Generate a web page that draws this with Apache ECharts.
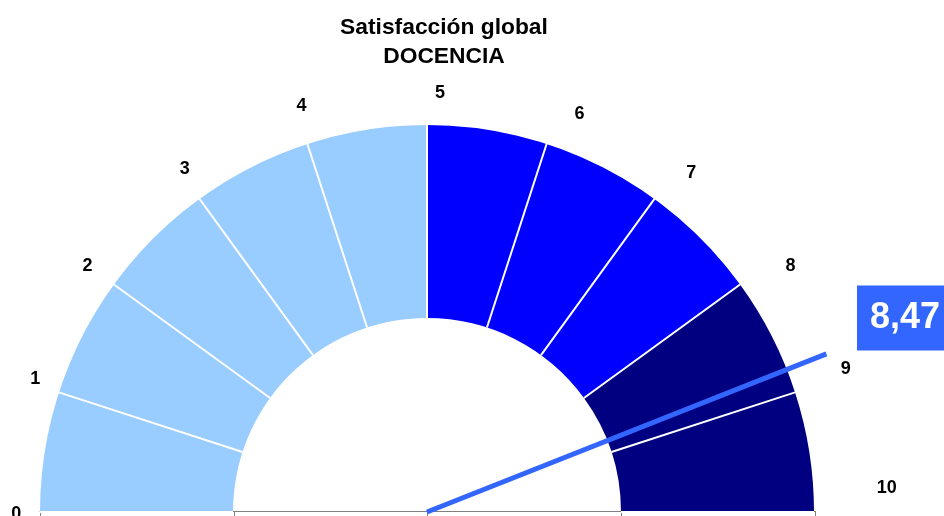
<!DOCTYPE html>
<html>
<head>
<meta charset="utf-8">
<script src="https://cdn.jsdelivr.net/npm/echarts@6/dist/echarts.min.js"></script>
<style>
  html, body { margin: 0; padding: 0; background: #fff; }
  #chart { width: 944px; height: 516px; }
</style>
</head>
<body>
<div id="chart"></div>
<script>
// scale of the dial
const scaleMin = 0;
const scaleMax = 10;
const dialLabels = [0, 1, 2, 3, 4, 5, 6, 7, 8, 9, 10];
// colour bands (upper limit of each band as fraction of the scale)
const bandLimits = [0.5, 0.8, 1];
const bandColors = ['#99CCFF', '#0000FF', '#000080'];
// score shown in the box and where the needle sits on the dial
const score = 8.47;
const needleAt = 8.8;
// bottom axis ticks
const baseTicks = [0, 1, 2, 3, 4];

// label ring (fraction of dial radius) and small per-label nudges in px
const labelRadius = 1.1;
const labelNudge = [
  [15, 2], [13, -1], [5, 4], [8, 1], [6, -1], [13, 7],
  [21, 7], [14, 5], [19, 4], [14, -11], [34, -24]
];

const center = [427, 512];
const dialR = 387;
const polarMax = 1.2;

const labelFont = {
  fontFamily: 'Liberation Sans, Arial, sans-serif',
  fontSize: 18,
  fontWeight: 'bold',
  color: '#000',
  opacity: 1
};

const chart = echarts.init(document.getElementById('chart'));

const option = {
  animation: false,
  title: {
    text: 'Satisfacción global\nDOCENCIA',
    left: 439,
    top: 8,
    textAlign: 'center',
    textStyle: {
      fontFamily: 'Liberation Sans, Arial, sans-serif',
      fontSize: 22.8,
      fontWeight: 'bold',
      color: '#000',
      lineHeight: 29
    }
  },
  grid: { left: 40, right: 129, top: 0, bottom: 5 },
  xAxis: {
    type: 'value',
    min: baseTicks[0],
    max: baseTicks[baseTicks.length - 1],
    interval: 1,
    axisLine: { show: true, lineStyle: { color: '#808080', width: 1 } },
    axisTick: { show: true, length: 5, lineStyle: { color: '#808080' } },
    axisLabel: { show: false },
    splitLine: { show: false }
  },
  yAxis: { type: 'value', show: false },
  polar: { center: center, radius: dialR * polarMax },
  angleAxis: {
    type: 'value',
    min: scaleMin,
    max: 2 * scaleMax,
    startAngle: 180,
    clockwise: true,
    show: false
  },
  radiusAxis: { type: 'value', min: 0, max: polarMax, show: false },
  series: [{
    type: 'gauge',
    center: center,
    radius: dialR,
    startAngle: 180,
    endAngle: 0,
    min: scaleMin,
    max: scaleMax,
    splitNumber: 10,
    axisLine: {
      lineStyle: {
        width: 193,
        color: bandLimits.map((l, i) => [l, bandColors[i]])
      }
    },
    splitLine: {
      distance: -193,
      length: 193,
      lineStyle: { color: '#fff', width: 2 }
    },
    axisTick: { show: false },
    axisLabel: { show: false },
    pointer: {
      icon: 'rect',
      length: '111%',
      width: 5,
      keepAspect: false,
      itemStyle: { color: '#3366FF' }
    },
    anchor: { show: false },
    progress: { show: false },
    title: { show: false },
    detail: {
      offsetCenter: [478, -194],
      formatter: () => score.toFixed(2).replace('.', ','),
      fontFamily: 'Liberation Sans, Arial, sans-serif',
      fontSize: 36,
      fontWeight: 'bold',
      color: '#fff',
      backgroundColor: '#3366FF',
      width: 70,
      padding: [14, 13, 13, 13],
      lineHeight: 38
    },
    data: [{ value: needleAt }]
  }, {
    // dial numbers
    type: 'scatter',
    coordinateSystem: 'polar',
    symbolSize: 0.1,
    itemStyle: { color: '#fff', opacity: 1 },
    silent: true,
    clip: false,
    label: Object.assign({
      show: true,
      position: 'inside',
      formatter: p => String(p.value[1])
    }, labelFont),
    data: dialLabels.map((v, i) => ({
      value: [labelRadius, v],
      label: Object.assign({ offset: labelNudge[i] }, labelFont)
    }))
  }]
};

chart.setOption(option);
</script>
</body>
</html>
